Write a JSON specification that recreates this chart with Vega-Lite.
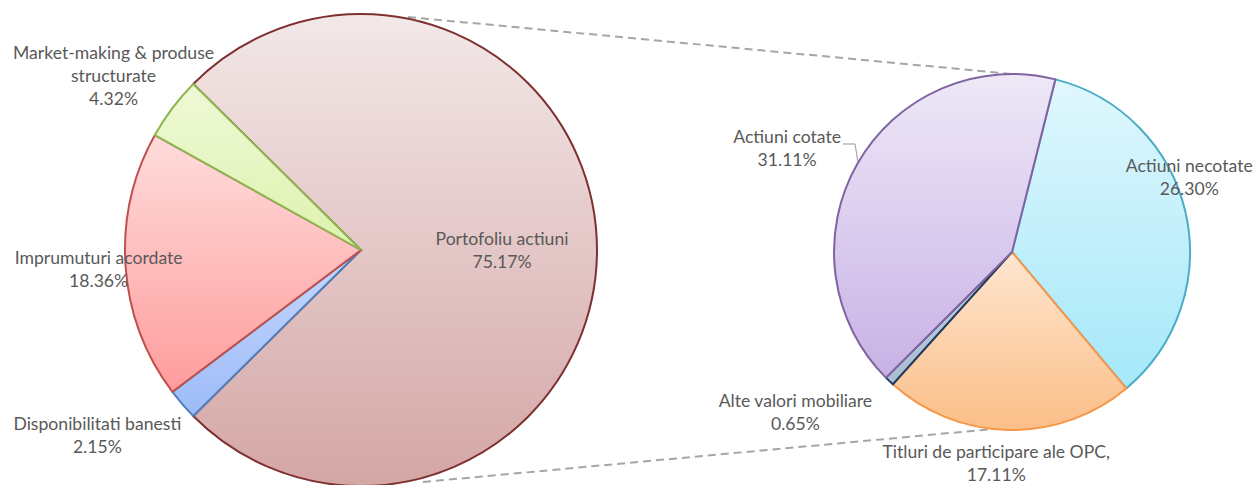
{
  "$schema": "https://vega.github.io/schema/vega-lite/v6.json",
  "width": 1254,
  "height": 485,
  "padding": 0,
  "autosize": {"type": "none"},
  "background": "white",
  "config": {
    "view": {"stroke": null},
    "text": {"font": "Lato", "fontSize": 17.6, "color": "#595959", "lineHeight": 23, "lineBreak": "\n", "align": "center", "baseline": "middle"}
  },
  "datasets": {
    "left": [
      {"pie": "left", "ord": 1, "name": "Portofoliu actiuni", "value": 75.17, "label": "Portofoliu actiuni\n75.17%"},
      {"pie": "left", "ord": 2, "name": "Disponibilitati banesti", "value": 2.15, "label": "Disponibilitati banesti\n2.15%"},
      {"pie": "left", "ord": 3, "name": "Imprumuturi acordate", "value": 18.36, "label": "Imprumuturi acordate\n18.36%"},
      {"pie": "left", "ord": 4, "name": "Market-making & produse structurate", "value": 4.32, "label": "Market-making & produse\nstructurate\n4.32%"}
    ],
    "right": [
      {"pie": "right", "ord": 1, "name": "Actiuni necotate", "value": 26.30, "label": "Actiuni necotate\n26.30%"},
      {"pie": "right", "ord": 2, "name": "Titluri de participare ale OPC", "value": 17.11, "label": "Titluri de participare ale OPC,\n17.11%"},
      {"pie": "right", "ord": 3, "name": "Alte valori mobiliare", "value": 0.65, "label": "Alte valori mobiliare\n0.65%"},
      {"pie": "right", "ord": 4, "name": "Actiuni cotate", "value": 31.11, "label": "Actiuni cotate\n31.11%"}
    ],
    "links": [{"from": "left", "to": "right"}],
    "leader": [{"from": "right", "to": "right"}]
  },
  "resolve": {"scale": {"theta": "independent"}},
  "layer": [
    {
      "data": {"name": "links"},
      "mark": {"type": "rule", "strokeDash": [8, 5], "strokeWidth": 2, "color": "#A6A6A6", "xOffset": 47, "yOffset": -233, "x2Offset": 0, "y2Offset": -178},
      "encoding": {
        "x": {"field": "from", "type": "nominal", "axis": null, "scale": {"type": "point", "domain": ["left", "right"], "range": [361, 1012], "padding": 0}},
        "x2": {"field": "to"},
        "y": {"field": "from", "type": "nominal", "axis": null, "scale": {"type": "point", "domain": ["left", "right"], "range": [250, 252], "padding": 0}},
        "y2": {"field": "to"}
      }
    },
    {
      "data": {"name": "links"},
      "mark": {"type": "rule", "strokeDash": [8, 5], "strokeWidth": 2, "color": "#A6A6A6", "xOffset": 62, "yOffset": 232, "x2Offset": -19, "y2Offset": 177},
      "encoding": {
        "x": {"field": "from", "type": "nominal", "axis": null, "scale": {"type": "point", "domain": ["left", "right"], "range": [361, 1012], "padding": 0}},
        "x2": {"field": "to"},
        "y": {"field": "from", "type": "nominal", "axis": null, "scale": {"type": "point", "domain": ["left", "right"], "range": [250, 252], "padding": 0}},
        "y2": {"field": "to"}
      }
    },
    {
      "data": {"name": "leader"},
      "mark": {"type": "rule", "strokeWidth": 1.2, "color": "#A6A6A6", "xOffset": -169, "yOffset": -108, "x2Offset": -157, "y2Offset": -108},
      "encoding": {
        "x": {"field": "from", "type": "nominal", "axis": null, "scale": {"type": "point", "domain": ["left", "right"], "range": [361, 1012], "padding": 0}},
        "x2": {"field": "to"},
        "y": {"field": "from", "type": "nominal", "axis": null, "scale": {"type": "point", "domain": ["left", "right"], "range": [250, 252], "padding": 0}},
        "y2": {"field": "to"}
      }
    },
    {
      "data": {"name": "leader"},
      "mark": {"type": "rule", "strokeWidth": 1.2, "color": "#A6A6A6", "xOffset": -157, "yOffset": -108, "x2Offset": -154, "y2Offset": -90},
      "encoding": {
        "x": {"field": "from", "type": "nominal", "axis": null, "scale": {"type": "point", "domain": ["left", "right"], "range": [361, 1012], "padding": 0}},
        "x2": {"field": "to"},
        "y": {"field": "from", "type": "nominal", "axis": null, "scale": {"type": "point", "domain": ["left", "right"], "range": [250, 252], "padding": 0}},
        "y2": {"field": "to"}
      }
    },
    {
      "data": {"name": "left"},
      "mark": {"type": "arc", "outerRadius": 236, "strokeWidth": 2},
      "encoding": {
        "x": {"field": "pie", "type": "nominal", "axis": null, "scale": {"type": "point", "domain": ["left", "right"], "range": [361, 1012], "padding": 0}},
        "y": {"field": "pie", "type": "nominal", "axis": null, "scale": {"type": "point", "domain": ["left", "right"], "range": [250, 252], "padding": 0}},
        "theta": {"field": "value", "type": "quantitative", "stack": true, "scale": {"range": [-0.79074, 5.49245]}},
        "order": {"field": "ord", "type": "quantitative"},
        "fill": {
          "condition": [
            {"test": "datum.name === 'Portofoliu actiuni'", "value": {"gradient": "linear", "x1": 0, "y1": 0, "x2": 0, "y2": 1, "stops": [{"offset": 0, "color": "#F3E8E8"}, {"offset": 1, "color": "#D4A6A6"}]}},
            {"test": "datum.name === 'Disponibilitati banesti'", "value": {"gradient": "linear", "x1": 0, "y1": 0, "x2": 0, "y2": 1, "stops": [{"offset": 0, "color": "#C6D8FF"}, {"offset": 1, "color": "#9DBBF7"}]}},
            {"test": "datum.name === 'Imprumuturi acordate'", "value": {"gradient": "linear", "x1": 0, "y1": 0, "x2": 0, "y2": 1, "stops": [{"offset": 0, "color": "#FFDCDC"}, {"offset": 1, "color": "#FF9C9C"}]}}
          ],
          "value": {"gradient": "linear", "x1": 0, "y1": 0, "x2": 0, "y2": 1, "stops": [{"offset": 0, "color": "#EFF9D6"}, {"offset": 1, "color": "#DDF2AE"}]}
        },
        "stroke": {
          "condition": [
            {"test": "datum.name === 'Portofoliu actiuni'", "value": "#7E2F2F"},
            {"test": "datum.name === 'Disponibilitati banesti'", "value": "#4F81BD"},
            {"test": "datum.name === 'Imprumuturi acordate'", "value": "#C0504D"}
          ],
          "value": "#8DB651"
        }
      }
    },
    {
      "data": {"name": "right"},
      "mark": {"type": "arc", "outerRadius": 178, "strokeWidth": 2},
      "encoding": {
        "x": {"field": "pie", "type": "nominal", "axis": null, "scale": {"type": "point", "domain": ["left", "right"], "range": [361, 1012], "padding": 0}},
        "y": {"field": "pie", "type": "nominal", "axis": null, "scale": {"type": "point", "domain": ["left", "right"], "range": [250, 252], "padding": 0}},
        "theta": {"field": "value", "type": "quantitative", "stack": true, "scale": {"range": [0.2461, 6.5293]}},
        "order": {"field": "ord", "type": "quantitative"},
        "fill": {
          "condition": [
            {"test": "datum.name === 'Actiuni necotate'", "value": {"gradient": "linear", "x1": 0, "y1": 0, "x2": 0, "y2": 1, "stops": [{"offset": 0, "color": "#E0F7FD"}, {"offset": 1, "color": "#A5E8F9"}]}},
            {"test": "datum.name === 'Titluri de participare ale OPC'", "value": {"gradient": "linear", "x1": 0, "y1": 0, "x2": 0, "y2": 1, "stops": [{"offset": 0, "color": "#FEE6D0"}, {"offset": 1, "color": "#FBBE88"}]}},
            {"test": "datum.name === 'Alte valori mobiliare'", "value": {"gradient": "linear", "x1": 0, "y1": 0, "x2": 0, "y2": 1, "stops": [{"offset": 0, "color": "#C5D3E3"}, {"offset": 1, "color": "#A9BCD3"}]}}
          ],
          "value": {"gradient": "linear", "x1": 0, "y1": 0, "x2": 0, "y2": 1, "stops": [{"offset": 0, "color": "#EEE8F7"}, {"offset": 1, "color": "#C8B2E6"}]}
        },
        "stroke": {
          "condition": [
            {"test": "datum.name === 'Actiuni necotate'", "value": "#4BACC6"},
            {"test": "datum.name === 'Titluri de participare ale OPC'", "value": "#F79646"},
            {"test": "datum.name === 'Alte valori mobiliare'", "value": "#1F3B5E"}
          ],
          "value": "#8064A2"
        }
      }
    },
    {
      "data": {"name": "left"},
      "mark": {"type": "text", "radius": 141, "dx": 0, "dy": -10.5},
      "encoding": {
        "x": {"field": "pie", "type": "nominal", "axis": null, "scale": {"type": "point", "domain": ["left", "right"], "range": [361, 1012], "padding": 0}},
        "y": {"field": "pie", "type": "nominal", "axis": null, "scale": {"type": "point", "domain": ["left", "right"], "range": [250, 252], "padding": 0}},
        "theta": {"field": "value", "type": "quantitative", "stack": true, "scale": {"range": [-0.79074, 5.49245]}},
        "order": {"field": "ord", "type": "quantitative"},
        "text": {"condition": {"test": "datum.name === 'Portofoliu actiuni'", "field": "label", "type": "nominal"}, "value": ""}
      }
    },
    {
      "data": {"name": "left"},
      "mark": {"type": "text", "radius": 322, "dx": -20, "dy": -35.5},
      "encoding": {
        "x": {"field": "pie", "type": "nominal", "axis": null, "scale": {"type": "point", "domain": ["left", "right"], "range": [361, 1012], "padding": 0}},
        "y": {"field": "pie", "type": "nominal", "axis": null, "scale": {"type": "point", "domain": ["left", "right"], "range": [250, 252], "padding": 0}},
        "theta": {"field": "value", "type": "quantitative", "stack": true, "scale": {"range": [-0.79074, 5.49245]}},
        "order": {"field": "ord", "type": "quantitative"},
        "text": {"condition": {"test": "datum.name === 'Disponibilitati banesti'", "field": "label", "type": "nominal"}, "value": ""}
      }
    },
    {
      "data": {"name": "left"},
      "mark": {"type": "text", "radius": 263, "dx": 0, "dy": -8.5},
      "encoding": {
        "x": {"field": "pie", "type": "nominal", "axis": null, "scale": {"type": "point", "domain": ["left", "right"], "range": [361, 1012], "padding": 0}},
        "y": {"field": "pie", "type": "nominal", "axis": null, "scale": {"type": "point", "domain": ["left", "right"], "range": [250, 252], "padding": 0}},
        "theta": {"field": "value", "type": "quantitative", "stack": true, "scale": {"range": [-0.79074, 5.49245]}},
        "order": {"field": "ord", "type": "quantitative"},
        "text": {"condition": {"test": "datum.name === 'Imprumuturi acordate'", "field": "label", "type": "nominal"}, "value": ""}
      }
    },
    {
      "data": {"name": "left"},
      "mark": {"type": "text", "radius": 302, "dx": -6, "dy": -15},
      "encoding": {
        "x": {"field": "pie", "type": "nominal", "axis": null, "scale": {"type": "point", "domain": ["left", "right"], "range": [361, 1012], "padding": 0}},
        "y": {"field": "pie", "type": "nominal", "axis": null, "scale": {"type": "point", "domain": ["left", "right"], "range": [250, 252], "padding": 0}},
        "theta": {"field": "value", "type": "quantitative", "stack": true, "scale": {"range": [-0.79074, 5.49245]}},
        "order": {"field": "ord", "type": "quantitative"},
        "text": {"condition": {"test": "datum.name === 'Market-making & produse structurate'", "field": "label", "type": "nominal"}, "value": ""}
      }
    },
    {
      "data": {"name": "right"},
      "mark": {"type": "text", "radius": 189, "dx": -7, "dy": -42.5},
      "encoding": {
        "x": {"field": "pie", "type": "nominal", "axis": null, "scale": {"type": "point", "domain": ["left", "right"], "range": [361, 1012], "padding": 0}},
        "y": {"field": "pie", "type": "nominal", "axis": null, "scale": {"type": "point", "domain": ["left", "right"], "range": [250, 252], "padding": 0}},
        "theta": {"field": "value", "type": "quantitative", "stack": true, "scale": {"range": [0.2461, 6.5293]}},
        "order": {"field": "ord", "type": "quantitative"},
        "text": {"condition": {"test": "datum.name === 'Actiuni necotate'", "field": "label", "type": "nominal"}, "value": ""}
      }
    },
    {
      "data": {"name": "right"},
      "mark": {"type": "text", "radius": 212, "dx": -12, "dy": -11},
      "encoding": {
        "x": {"field": "pie", "type": "nominal", "axis": null, "scale": {"type": "point", "domain": ["left", "right"], "range": [361, 1012], "padding": 0}},
        "y": {"field": "pie", "type": "nominal", "axis": null, "scale": {"type": "point", "domain": ["left", "right"], "range": [250, 252], "padding": 0}},
        "theta": {"field": "value", "type": "quantitative", "stack": true, "scale": {"range": [0.2461, 6.5293]}},
        "order": {"field": "ord", "type": "quantitative"},
        "text": {"condition": {"test": "datum.name === 'Titluri de participare ale OPC'", "field": "label", "type": "nominal"}, "value": ""}
      }
    },
    {
      "data": {"name": "right"},
      "mark": {"type": "text", "radius": 265, "dx": -34, "dy": -42},
      "encoding": {
        "x": {"field": "pie", "type": "nominal", "axis": null, "scale": {"type": "point", "domain": ["left", "right"], "range": [361, 1012], "padding": 0}},
        "y": {"field": "pie", "type": "nominal", "axis": null, "scale": {"type": "point", "domain": ["left", "right"], "range": [250, 252], "padding": 0}},
        "theta": {"field": "value", "type": "quantitative", "stack": true, "scale": {"range": [0.2461, 6.5293]}},
        "order": {"field": "ord", "type": "quantitative"},
        "text": {"condition": {"test": "datum.name === 'Alte valori mobiliare'", "field": "label", "type": "nominal"}, "value": ""}
      }
    },
    {
      "data": {"name": "right"},
      "mark": {"type": "text", "radius": 246, "dx": -11, "dy": 7.5},
      "encoding": {
        "x": {"field": "pie", "type": "nominal", "axis": null, "scale": {"type": "point", "domain": ["left", "right"], "range": [361, 1012], "padding": 0}},
        "y": {"field": "pie", "type": "nominal", "axis": null, "scale": {"type": "point", "domain": ["left", "right"], "range": [250, 252], "padding": 0}},
        "theta": {"field": "value", "type": "quantitative", "stack": true, "scale": {"range": [0.2461, 6.5293]}},
        "order": {"field": "ord", "type": "quantitative"},
        "text": {"condition": {"test": "datum.name === 'Actiuni cotate'", "field": "label", "type": "nominal"}, "value": ""}
      }
    }
  ]
}
